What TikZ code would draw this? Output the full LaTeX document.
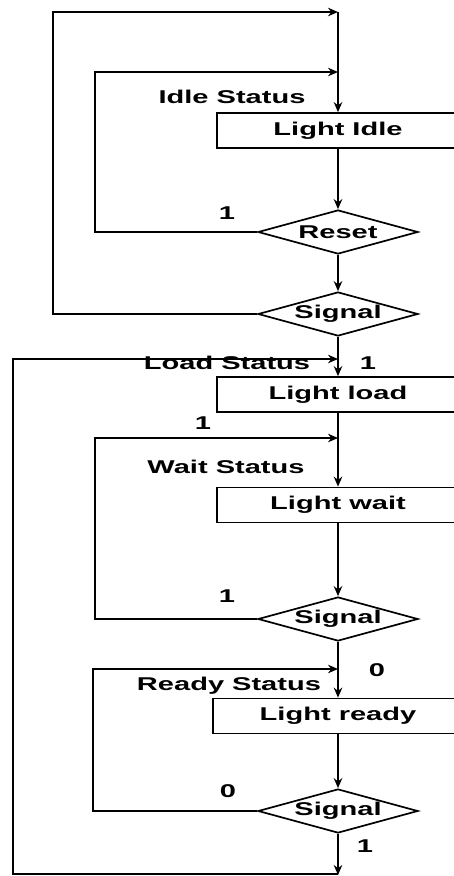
\documentclass[tikz,border=0pt]{standalone}
\usepackage{fontspec}
\newfontfamily\dfont[FakeStretch=1.57]{Liberation Sans Bold}
\usetikzlibrary{arrows.meta,shapes.geometric}
\begin{document}
\begin{tikzpicture}[x=1pt,y=-1pt,
  line width=1.7pt,
  every node/.style={font=\dfont\fontsize{18.5}{20}\selectfont},
  arr/.style={-{Stealth[length=10pt,width=8.5pt]}},
  box/.style={draw,rectangle,minimum width=242pt,minimum height=35pt,inner sep=0pt},
  dia/.style={draw,diamond,minimum width=160pt,minimum height=44pt,inner sep=0pt},
  lbl/.style={inner sep=0pt}]
\useasboundingbox (0,0) rectangle (454,876);
\clip (0,0) rectangle (454,876);
\fill[white] (0,0) rectangle (454,876);
% junction coordinates
\coordinate (top) at (338,12);
\coordinate (j1) at (338,72);
\coordinate (jload) at (338,359);
\coordinate (jwait) at (338,438);
\coordinate (jready) at (338,669);
\coordinate (endp) at (338,875);
% nodes
\node[box] (idle) at (338,130.5) {Light Idle};
\node[dia,label={[lbl]center:Reset}] (reset) at (338,232) {};
\node[dia,label={[lbl]center:Signal}] (sig1) at (338,314) {};
\node[box] (load) at (338,394.5) {Light load};
\node[box] (wait) at (338,505) {Light wait};
\node[dia,label={[lbl]center:Signal}] (sig2) at (338,619) {};
\node[box,minimum width=250pt] (ready) at (338,716) {Light ready};
\node[dia,label={[lbl]center:Signal}] (sig3) at (338,811) {};
% texts
\node[lbl] (tidle) at (232,97) {Idle Status};
\node[lbl] (tload) at (227,363) {Load Status};
\node[lbl] (twait) at (226,467) {Wait Status};
\node[lbl] (tready) at (229,686) {Ready Status};
\node[lbl] (l1) at (227,213) {1};
\node[lbl] (l2) at (368,363) {1};
\node[lbl] (l3) at (203,423) {1};
\node[lbl] (l4) at (227,596) {1};
\node[lbl] (l5) at (377,670) {0};
\node[lbl] (l6) at (228,791) {0};
\node[lbl] (l7) at (365,846) {1};
% loops
\draw[arr] (reset.west) -- (95,232) |- (j1);
\draw[arr] (sig1.west) -- (53,314) |- (top);
\draw (338,874) -- (13,874) |- (330,359);
\draw[arr] (13,359) -- (jload);
\draw[arr] (sig2.west) -- (95,619) |- (jwait);
\draw[arr] (sig3.west) -- (93,811) |- (jready);
% main flow
\draw[arr] (top) -- (idle.north);
\draw[arr] (idle.south) -- (reset.north);
\draw[arr] (reset.south) -- (sig1.north);
\draw[arr] (sig1.south) -- (load.north);
\draw[arr] (load.south) -- (wait.north);
\draw[arr] (wait.south) -- (sig2.north);
\draw[arr] (sig2.south) -- (ready.north);
\draw[arr] (ready.south) -- (sig3.north);
\draw[arr] (sig3.south) -- (endp);
\end{tikzpicture}
\end{document}
